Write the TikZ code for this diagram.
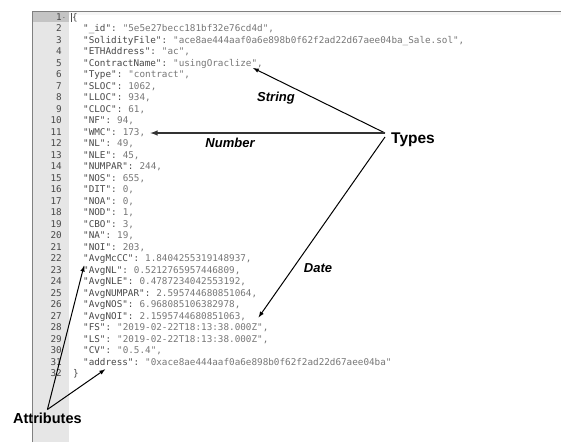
\documentclass[tikz,border=0pt]{standalone}
\usepackage{fontspec}
\setmainfont{Liberation Sans}
\setmonofont{DejaVu Sans Mono}
\usepackage{xcolor}
\usetikzlibrary{positioning}
\definecolor{gutter}{HTML}{E6E6E6}
\definecolor{keygray}{HTML}{484848}
\definecolor{valgray}{HTML}{767676}

\begin{document}
\begin{tikzpicture}[x=1pt, y=-1pt,
  code/.style={inner sep=0pt, anchor=base west, font=\ttfamily\fontsize{9.3}{11}\selectfont},
  num/.style={inner sep=0pt, anchor=base east, text=keygray, font=\ttfamily\fontsize{9.3}{11}\selectfont},
  lbl/.style={inner sep=1pt, font=\bfseries\itshape\fontsize{13}{15}\selectfont},
  tag/.style={inner sep=2pt, font=\bfseries\fontsize{15.5}{17}\selectfont},
  arr/.style={-latex, line width=1pt}]
 \useasboundingbox (0,0) rectangle (561,442);
 % editor window
 \fill[gray!7] (69,11) rectangle (561,15);
 \fill[gutter] (32,11) rectangle (69,442);
 \fill[gutter!85!black] (32,11) rectangle (69,22);
 \draw[gray, line width=.8pt] (32,442) -- (32,11) -- (561,11);
 % line numbers
 \foreach \i in {1,...,32}
  \node[num] (ln-\i) at (62,{20+(\i-1)*11.5}) {\i};
 \node[num, font=\ttfamily\fontsize{6}{7}\selectfont] at (66,19) {-};
 \draw[black!70, line width=.4pt] (71,13) -- (71,22);
 \node[code, text=keygray] (open) at (72,20) {\{};
 \node[code, text=keygray] (close) at (73,{20+31*11.5}) {\}};
 % json text
 \foreach \k/\v [count=\i from 2] in {
   {"\_id"}/{"5e5e27becc181bf32e76cd4d",},
   {"SolidityFile"}/{"ace8ae444aaf0a6e898b0f62f2ad22d67aee04ba\_Sale.sol",},
   {"ETHAddress"}/{"ac",},
   {"ContractName"}/{"usingOraclize",},
   {"Type"}/{"contract",},
   {"SLOC"}/{1062,},
   {"LLOC"}/{934,},
   {"CLOC"}/{61,},
   {"NF"}/{94,},
   {"WMC"}/{173,},
   {"NL"}/{49,},
   {"NLE"}/{45,},
   {"NUMPAR"}/{244,},
   {"NOS"}/{655,},
   {"DIT"}/{0,},
   {"NOA"}/{0,},
   {"NOD"}/{1,},
   {"CBO"}/{3,},
   {"NA"}/{19,},
   {"NOI"}/{203,},
   {"AvgMcCC"}/{1.8404255319148937,},
   {"AvgNL"}/{0.5212765957446809,},
   {"AvgNLE"}/{0.4787234042553192,},
   {"AvgNUMPAR"}/{2.595744680851064,},
   {"AvgNOS"}/{6.968085106382978,},
   {"AvgNOI"}/{2.1595744680851063,},
   {"FS"}/{"2019-02-22T18:13:38.000Z",},
   {"LS"}/{"2019-02-22T18:13:38.000Z",},
   {"CV"}/{"0.5.4",},
   {"address"}/{"0xace8ae444aaf0a6e898b0f62f2ad22d67aee04ba"}}
 {
  \node[code, text=keygray] (key-\i) at (83,{20+(\i-1)*11.5}) {\k:};
  \node[code, text=valgray] (val-\i) at ([xshift=5.6pt]key-\i.base east) {\v};
 }
 % labels
 \coordinate (hub) at (385,133);
 \node[tag, anchor=west] (types) at (389,140) {Types};
 \node[tag, anchor=west, inner sep=0pt, font=\bfseries\fontsize{14.5}{16}\selectfont] (attr) at (13,418) {Attributes};
 \node[lbl] (string) at (276,98) {String};
 \node[lbl] (number) at (230,143) {Number};
 \node[lbl] (date) at (318,268) {Date};
 % arrows
 \draw[arr] (hub) -- ([xshift=-10pt,yshift=-2pt]val-5.base east);
 \draw[arr, line width=1.5pt, black!80] (hub) -- ([xshift=5pt]val-11.east |- hub);
 \draw[arr] ([yshift=-4pt]hub) -- ([xshift=-10pt,yshift=6pt]val-28.north east);
 \draw[arr] ([yshift=3pt]attr.north) -- ([xshift=1pt,yshift=-2pt]key-22.south west);
 \draw[arr] ([yshift=3pt]attr.north) -- ([xshift=-6pt,yshift=-4pt]key-31.south);
\end{tikzpicture}
\end{document}
